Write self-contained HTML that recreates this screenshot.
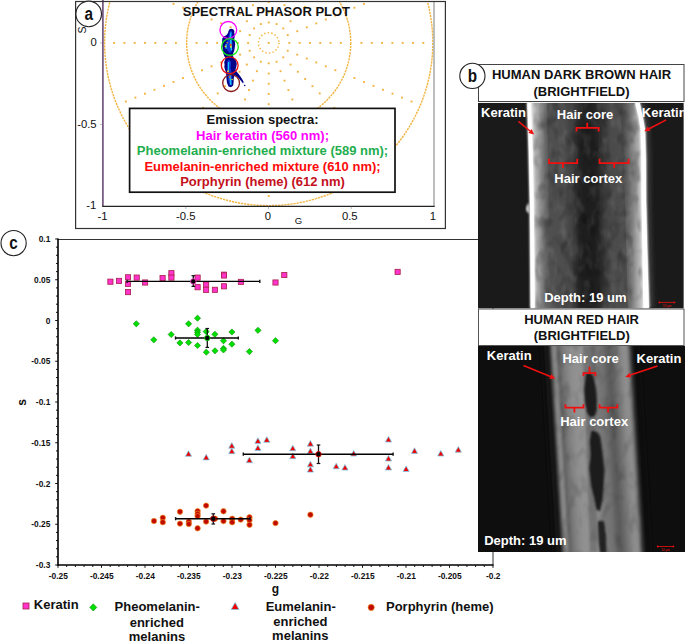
<!DOCTYPE html>
<html><head><meta charset="utf-8"><title>Figure</title>
<style>html,body{margin:0;padding:0;background:#fff;width:685px;height:643px;overflow:hidden;font-family:"Liberation Sans",sans-serif;}svg{display:block}</style>
</head><body>
<svg width="685" height="643" viewBox="0 0 685 643">
<rect width="685" height="643" fill="#fff"/>
<line x1="58.0" y1="239.5" x2="493.0" y2="239.5" stroke="#333" stroke-width="1"/>
<line x1="493" y1="239.0" x2="493" y2="565.0" stroke="#333" stroke-width="1"/>
<line x1="58.0" y1="238.5" x2="58.0" y2="565.7" stroke="#000" stroke-width="1.6"/>
<line x1="57.3" y1="565.0" x2="493.5" y2="565.0" stroke="#000" stroke-width="1.6"/>
<line x1="55.2" y1="239.00" x2="58.0" y2="239.00" stroke="#111" stroke-width="1"/>
<line x1="56.0" y1="247.15" x2="58.0" y2="247.15" stroke="#111" stroke-width="1"/>
<line x1="56.0" y1="255.30" x2="58.0" y2="255.30" stroke="#111" stroke-width="1"/>
<line x1="56.0" y1="263.45" x2="58.0" y2="263.45" stroke="#111" stroke-width="1"/>
<line x1="56.0" y1="271.60" x2="58.0" y2="271.60" stroke="#111" stroke-width="1"/>
<line x1="55.2" y1="279.75" x2="58.0" y2="279.75" stroke="#111" stroke-width="1"/>
<line x1="56.0" y1="287.90" x2="58.0" y2="287.90" stroke="#111" stroke-width="1"/>
<line x1="56.0" y1="296.05" x2="58.0" y2="296.05" stroke="#111" stroke-width="1"/>
<line x1="56.0" y1="304.20" x2="58.0" y2="304.20" stroke="#111" stroke-width="1"/>
<line x1="56.0" y1="312.35" x2="58.0" y2="312.35" stroke="#111" stroke-width="1"/>
<line x1="55.2" y1="320.50" x2="58.0" y2="320.50" stroke="#111" stroke-width="1"/>
<line x1="56.0" y1="328.65" x2="58.0" y2="328.65" stroke="#111" stroke-width="1"/>
<line x1="56.0" y1="336.80" x2="58.0" y2="336.80" stroke="#111" stroke-width="1"/>
<line x1="56.0" y1="344.95" x2="58.0" y2="344.95" stroke="#111" stroke-width="1"/>
<line x1="56.0" y1="353.10" x2="58.0" y2="353.10" stroke="#111" stroke-width="1"/>
<line x1="55.2" y1="361.25" x2="58.0" y2="361.25" stroke="#111" stroke-width="1"/>
<line x1="56.0" y1="369.40" x2="58.0" y2="369.40" stroke="#111" stroke-width="1"/>
<line x1="56.0" y1="377.55" x2="58.0" y2="377.55" stroke="#111" stroke-width="1"/>
<line x1="56.0" y1="385.70" x2="58.0" y2="385.70" stroke="#111" stroke-width="1"/>
<line x1="56.0" y1="393.85" x2="58.0" y2="393.85" stroke="#111" stroke-width="1"/>
<line x1="55.2" y1="402.00" x2="58.0" y2="402.00" stroke="#111" stroke-width="1"/>
<line x1="56.0" y1="410.15" x2="58.0" y2="410.15" stroke="#111" stroke-width="1"/>
<line x1="56.0" y1="418.30" x2="58.0" y2="418.30" stroke="#111" stroke-width="1"/>
<line x1="56.0" y1="426.45" x2="58.0" y2="426.45" stroke="#111" stroke-width="1"/>
<line x1="56.0" y1="434.60" x2="58.0" y2="434.60" stroke="#111" stroke-width="1"/>
<line x1="55.2" y1="442.75" x2="58.0" y2="442.75" stroke="#111" stroke-width="1"/>
<line x1="56.0" y1="450.90" x2="58.0" y2="450.90" stroke="#111" stroke-width="1"/>
<line x1="56.0" y1="459.05" x2="58.0" y2="459.05" stroke="#111" stroke-width="1"/>
<line x1="56.0" y1="467.20" x2="58.0" y2="467.20" stroke="#111" stroke-width="1"/>
<line x1="56.0" y1="475.35" x2="58.0" y2="475.35" stroke="#111" stroke-width="1"/>
<line x1="55.2" y1="483.50" x2="58.0" y2="483.50" stroke="#111" stroke-width="1"/>
<line x1="56.0" y1="491.65" x2="58.0" y2="491.65" stroke="#111" stroke-width="1"/>
<line x1="56.0" y1="499.80" x2="58.0" y2="499.80" stroke="#111" stroke-width="1"/>
<line x1="56.0" y1="507.95" x2="58.0" y2="507.95" stroke="#111" stroke-width="1"/>
<line x1="56.0" y1="516.10" x2="58.0" y2="516.10" stroke="#111" stroke-width="1"/>
<line x1="55.2" y1="524.25" x2="58.0" y2="524.25" stroke="#111" stroke-width="1"/>
<line x1="56.0" y1="532.40" x2="58.0" y2="532.40" stroke="#111" stroke-width="1"/>
<line x1="56.0" y1="540.55" x2="58.0" y2="540.55" stroke="#111" stroke-width="1"/>
<line x1="56.0" y1="548.70" x2="58.0" y2="548.70" stroke="#111" stroke-width="1"/>
<line x1="56.0" y1="556.85" x2="58.0" y2="556.85" stroke="#111" stroke-width="1"/>
<line x1="55.2" y1="565.00" x2="58.0" y2="565.00" stroke="#111" stroke-width="1"/>
<line x1="58.00" y1="565.0" x2="58.00" y2="567.8" stroke="#111" stroke-width="1"/>
<line x1="66.70" y1="565.0" x2="66.70" y2="567.0" stroke="#111" stroke-width="1"/>
<line x1="75.40" y1="565.0" x2="75.40" y2="567.0" stroke="#111" stroke-width="1"/>
<line x1="84.10" y1="565.0" x2="84.10" y2="567.0" stroke="#111" stroke-width="1"/>
<line x1="92.80" y1="565.0" x2="92.80" y2="567.0" stroke="#111" stroke-width="1"/>
<line x1="101.50" y1="565.0" x2="101.50" y2="567.8" stroke="#111" stroke-width="1"/>
<line x1="110.20" y1="565.0" x2="110.20" y2="567.0" stroke="#111" stroke-width="1"/>
<line x1="118.90" y1="565.0" x2="118.90" y2="567.0" stroke="#111" stroke-width="1"/>
<line x1="127.60" y1="565.0" x2="127.60" y2="567.0" stroke="#111" stroke-width="1"/>
<line x1="136.30" y1="565.0" x2="136.30" y2="567.0" stroke="#111" stroke-width="1"/>
<line x1="145.00" y1="565.0" x2="145.00" y2="567.8" stroke="#111" stroke-width="1"/>
<line x1="153.70" y1="565.0" x2="153.70" y2="567.0" stroke="#111" stroke-width="1"/>
<line x1="162.40" y1="565.0" x2="162.40" y2="567.0" stroke="#111" stroke-width="1"/>
<line x1="171.10" y1="565.0" x2="171.10" y2="567.0" stroke="#111" stroke-width="1"/>
<line x1="179.80" y1="565.0" x2="179.80" y2="567.0" stroke="#111" stroke-width="1"/>
<line x1="188.50" y1="565.0" x2="188.50" y2="567.8" stroke="#111" stroke-width="1"/>
<line x1="197.20" y1="565.0" x2="197.20" y2="567.0" stroke="#111" stroke-width="1"/>
<line x1="205.90" y1="565.0" x2="205.90" y2="567.0" stroke="#111" stroke-width="1"/>
<line x1="214.60" y1="565.0" x2="214.60" y2="567.0" stroke="#111" stroke-width="1"/>
<line x1="223.30" y1="565.0" x2="223.30" y2="567.0" stroke="#111" stroke-width="1"/>
<line x1="232.00" y1="565.0" x2="232.00" y2="567.8" stroke="#111" stroke-width="1"/>
<line x1="240.70" y1="565.0" x2="240.70" y2="567.0" stroke="#111" stroke-width="1"/>
<line x1="249.40" y1="565.0" x2="249.40" y2="567.0" stroke="#111" stroke-width="1"/>
<line x1="258.10" y1="565.0" x2="258.10" y2="567.0" stroke="#111" stroke-width="1"/>
<line x1="266.80" y1="565.0" x2="266.80" y2="567.0" stroke="#111" stroke-width="1"/>
<line x1="275.50" y1="565.0" x2="275.50" y2="567.8" stroke="#111" stroke-width="1"/>
<line x1="284.20" y1="565.0" x2="284.20" y2="567.0" stroke="#111" stroke-width="1"/>
<line x1="292.90" y1="565.0" x2="292.90" y2="567.0" stroke="#111" stroke-width="1"/>
<line x1="301.60" y1="565.0" x2="301.60" y2="567.0" stroke="#111" stroke-width="1"/>
<line x1="310.30" y1="565.0" x2="310.30" y2="567.0" stroke="#111" stroke-width="1"/>
<line x1="319.00" y1="565.0" x2="319.00" y2="567.8" stroke="#111" stroke-width="1"/>
<line x1="327.70" y1="565.0" x2="327.70" y2="567.0" stroke="#111" stroke-width="1"/>
<line x1="336.40" y1="565.0" x2="336.40" y2="567.0" stroke="#111" stroke-width="1"/>
<line x1="345.10" y1="565.0" x2="345.10" y2="567.0" stroke="#111" stroke-width="1"/>
<line x1="353.80" y1="565.0" x2="353.80" y2="567.0" stroke="#111" stroke-width="1"/>
<line x1="362.50" y1="565.0" x2="362.50" y2="567.8" stroke="#111" stroke-width="1"/>
<line x1="371.20" y1="565.0" x2="371.20" y2="567.0" stroke="#111" stroke-width="1"/>
<line x1="379.90" y1="565.0" x2="379.90" y2="567.0" stroke="#111" stroke-width="1"/>
<line x1="388.60" y1="565.0" x2="388.60" y2="567.0" stroke="#111" stroke-width="1"/>
<line x1="397.30" y1="565.0" x2="397.30" y2="567.0" stroke="#111" stroke-width="1"/>
<line x1="406.00" y1="565.0" x2="406.00" y2="567.8" stroke="#111" stroke-width="1"/>
<line x1="414.70" y1="565.0" x2="414.70" y2="567.0" stroke="#111" stroke-width="1"/>
<line x1="423.40" y1="565.0" x2="423.40" y2="567.0" stroke="#111" stroke-width="1"/>
<line x1="432.10" y1="565.0" x2="432.10" y2="567.0" stroke="#111" stroke-width="1"/>
<line x1="440.80" y1="565.0" x2="440.80" y2="567.0" stroke="#111" stroke-width="1"/>
<line x1="449.50" y1="565.0" x2="449.50" y2="567.8" stroke="#111" stroke-width="1"/>
<line x1="458.20" y1="565.0" x2="458.20" y2="567.0" stroke="#111" stroke-width="1"/>
<line x1="466.90" y1="565.0" x2="466.90" y2="567.0" stroke="#111" stroke-width="1"/>
<line x1="475.60" y1="565.0" x2="475.60" y2="567.0" stroke="#111" stroke-width="1"/>
<line x1="484.30" y1="565.0" x2="484.30" y2="567.0" stroke="#111" stroke-width="1"/>
<line x1="493.00" y1="565.0" x2="493.00" y2="567.8" stroke="#111" stroke-width="1"/>
<g font-family="Liberation Sans" font-weight="bold" font-size="8.4" fill="#111">
<text x="50.3" y="242.0" text-anchor="end">0.1</text>
<text x="50.3" y="282.8" text-anchor="end">0.05</text>
<text x="50.3" y="323.5" text-anchor="end">0</text>
<text x="50.3" y="364.2" text-anchor="end">-0.05</text>
<text x="50.3" y="405.0" text-anchor="end">-0.1</text>
<text x="50.3" y="445.8" text-anchor="end">-0.15</text>
<text x="50.3" y="486.5" text-anchor="end">-0.2</text>
<text x="50.3" y="527.2" text-anchor="end">-0.25</text>
<text x="50.3" y="568.0" text-anchor="end">-0.3</text>
<text x="58.3" y="578.6" text-anchor="middle">-0.25</text>
<text x="101.8" y="578.6" text-anchor="middle">-0.245</text>
<text x="145.3" y="578.6" text-anchor="middle">-0.24</text>
<text x="188.8" y="578.6" text-anchor="middle">-0.235</text>
<text x="232.3" y="578.6" text-anchor="middle">-0.23</text>
<text x="275.8" y="578.6" text-anchor="middle">-0.225</text>
<text x="319.3" y="578.6" text-anchor="middle">-0.22</text>
<text x="362.8" y="578.6" text-anchor="middle">-0.215</text>
<text x="406.3" y="578.6" text-anchor="middle">-0.21</text>
<text x="449.8" y="578.6" text-anchor="middle">-0.205</text>
<text x="493.3" y="578.6" text-anchor="middle">-0.2</text>
</g>
<text x="275.5" y="593.2" text-anchor="middle" font-family="Liberation Sans" font-weight="bold" font-size="12" fill="#111">g</text>
<text transform="translate(26.2,402.3) rotate(-90)" text-anchor="middle" font-family="Liberation Sans" font-weight="bold" font-size="12" fill="#111">s</text>
<rect x="107.8" y="279.1" width="5.2" height="5.2" fill="#ff33cc" stroke="#a8204a" stroke-width="0.8"/>
<rect x="116.4" y="278.3" width="5.2" height="5.2" fill="#ff33cc" stroke="#a8204a" stroke-width="0.8"/>
<rect x="125.4" y="274.7" width="5.2" height="5.2" fill="#ff33cc" stroke="#a8204a" stroke-width="0.8"/>
<rect x="125.4" y="281.3" width="5.2" height="5.2" fill="#ff33cc" stroke="#a8204a" stroke-width="0.8"/>
<rect x="125.4" y="289.5" width="5.2" height="5.2" fill="#ff33cc" stroke="#a8204a" stroke-width="0.8"/>
<rect x="134.1" y="275.0" width="5.2" height="5.2" fill="#ff33cc" stroke="#a8204a" stroke-width="0.8"/>
<rect x="142.5" y="279.9" width="5.2" height="5.2" fill="#ff33cc" stroke="#a8204a" stroke-width="0.8"/>
<rect x="160.0" y="275.5" width="5.2" height="5.2" fill="#ff33cc" stroke="#a8204a" stroke-width="0.8"/>
<rect x="168.8" y="270.6" width="5.2" height="5.2" fill="#ff33cc" stroke="#a8204a" stroke-width="0.8"/>
<rect x="168.8" y="275.0" width="5.2" height="5.2" fill="#ff33cc" stroke="#a8204a" stroke-width="0.8"/>
<rect x="195.0" y="275.0" width="5.2" height="5.2" fill="#ff33cc" stroke="#a8204a" stroke-width="0.8"/>
<rect x="195.0" y="284.6" width="5.2" height="5.2" fill="#ff33cc" stroke="#a8204a" stroke-width="0.8"/>
<rect x="203.5" y="282.0" width="5.2" height="5.2" fill="#ff33cc" stroke="#a8204a" stroke-width="0.8"/>
<rect x="203.5" y="287.2" width="5.2" height="5.2" fill="#ff33cc" stroke="#a8204a" stroke-width="0.8"/>
<rect x="212.3" y="287.2" width="5.2" height="5.2" fill="#ff33cc" stroke="#a8204a" stroke-width="0.8"/>
<rect x="221.4" y="272.1" width="5.2" height="5.2" fill="#ff33cc" stroke="#a8204a" stroke-width="0.8"/>
<rect x="221.4" y="272.9" width="5.2" height="5.2" fill="#ff33cc" stroke="#a8204a" stroke-width="0.8"/>
<rect x="221.4" y="283.7" width="5.2" height="5.2" fill="#ff33cc" stroke="#a8204a" stroke-width="0.8"/>
<rect x="238.3" y="279.3" width="5.2" height="5.2" fill="#ff33cc" stroke="#a8204a" stroke-width="0.8"/>
<rect x="272.9" y="279.9" width="5.2" height="5.2" fill="#ff33cc" stroke="#a8204a" stroke-width="0.8"/>
<rect x="281.7" y="272.4" width="5.2" height="5.2" fill="#ff33cc" stroke="#a8204a" stroke-width="0.8"/>
<rect x="395.0" y="269.3" width="5.2" height="5.2" fill="#ff33cc" stroke="#a8204a" stroke-width="0.8"/>
<line x1="127.1" y1="281.4" x2="259.8" y2="281.4" stroke="#000" stroke-width="1.4"/>
<line x1="127.1" y1="279.79999999999995" x2="127.1" y2="283.0" stroke="#111" stroke-width="1.4"/>
<line x1="259.8" y1="279.79999999999995" x2="259.8" y2="283.0" stroke="#111" stroke-width="1.4"/>
<line x1="193.3" y1="275.7" x2="193.3" y2="286.4" stroke="#111" stroke-width="1.3"/>
<line x1="191.5" y1="275.7" x2="195.10000000000002" y2="275.7" stroke="#111" stroke-width="1.2"/>
<line x1="191.5" y1="286.4" x2="195.10000000000002" y2="286.4" stroke="#111" stroke-width="1.2"/>
<circle cx="193.3" cy="281.4" r="2.7" fill="#000" stroke="#ff33cc" stroke-width="0.9"/>
<path d="M136.3,320.7 L139.4,323.8 L136.3,326.9 L133.2,323.8 Z" fill="#00e000" stroke="#0a8a0a" stroke-width="0.6"/>
<path d="M153.8,336.7 L156.9,339.8 L153.8,342.9 L150.7,339.8 Z" fill="#00e000" stroke="#0a8a0a" stroke-width="0.6"/>
<path d="M171.2,331.4 L174.3,334.5 L171.2,337.6 L168.1,334.5 Z" fill="#00e000" stroke="#0a8a0a" stroke-width="0.6"/>
<path d="M179.9,339.8 L183.0,342.9 L179.9,346.0 L176.8,342.9 Z" fill="#00e000" stroke="#0a8a0a" stroke-width="0.6"/>
<path d="M188.6,320.7 L191.7,323.8 L188.6,326.9 L185.5,323.8 Z" fill="#00e000" stroke="#0a8a0a" stroke-width="0.6"/>
<path d="M188.6,339.4 L191.7,342.5 L188.6,345.6 L185.5,342.5 Z" fill="#00e000" stroke="#0a8a0a" stroke-width="0.6"/>
<path d="M197.5,315.1 L200.6,318.2 L197.5,321.3 L194.4,318.2 Z" fill="#00e000" stroke="#0a8a0a" stroke-width="0.6"/>
<path d="M197.5,327.1 L200.6,330.2 L197.5,333.3 L194.4,330.2 Z" fill="#00e000" stroke="#0a8a0a" stroke-width="0.6"/>
<path d="M197.5,329.2 L200.6,332.3 L197.5,335.4 L194.4,332.3 Z" fill="#00e000" stroke="#0a8a0a" stroke-width="0.6"/>
<path d="M197.5,331.4 L200.6,334.5 L197.5,337.6 L194.4,334.5 Z" fill="#00e000" stroke="#0a8a0a" stroke-width="0.6"/>
<path d="M197.5,342.4 L200.6,345.5 L197.5,348.6 L194.4,345.5 Z" fill="#00e000" stroke="#0a8a0a" stroke-width="0.6"/>
<path d="M206.2,328.5 L209.3,331.6 L206.2,334.7 L203.1,331.6 Z" fill="#00e000" stroke="#0a8a0a" stroke-width="0.6"/>
<path d="M206.3,349.1 L209.4,352.2 L206.3,355.3 L203.2,352.2 Z" fill="#00e000" stroke="#0a8a0a" stroke-width="0.6"/>
<path d="M214.9,331.2 L218.0,334.3 L214.9,337.4 L211.8,334.3 Z" fill="#00e000" stroke="#0a8a0a" stroke-width="0.6"/>
<path d="M215.0,347.7 L218.1,350.8 L215.0,353.9 L211.9,350.8 Z" fill="#00e000" stroke="#0a8a0a" stroke-width="0.6"/>
<path d="M223.5,337.7 L226.6,340.8 L223.5,343.9 L220.4,340.8 Z" fill="#00e000" stroke="#0a8a0a" stroke-width="0.6"/>
<path d="M223.5,345.3 L226.6,348.4 L223.5,351.5 L220.4,348.4 Z" fill="#00e000" stroke="#0a8a0a" stroke-width="0.6"/>
<path d="M223.5,346.8 L226.6,349.9 L223.5,353.0 L220.4,349.9 Z" fill="#00e000" stroke="#0a8a0a" stroke-width="0.6"/>
<path d="M231.9,328.9 L235.0,332.0 L231.9,335.1 L228.8,332.0 Z" fill="#00e000" stroke="#0a8a0a" stroke-width="0.6"/>
<path d="M231.9,341.1 L235.0,344.2 L231.9,347.3 L228.8,344.2 Z" fill="#00e000" stroke="#0a8a0a" stroke-width="0.6"/>
<path d="M249.4,348.5 L252.5,351.6 L249.4,354.7 L246.3,351.6 Z" fill="#00e000" stroke="#0a8a0a" stroke-width="0.6"/>
<path d="M258.0,327.2 L261.1,330.3 L258.0,333.4 L254.9,330.3 Z" fill="#00e000" stroke="#0a8a0a" stroke-width="0.6"/>
<path d="M275.5,337.6 L278.6,340.7 L275.5,343.8 L272.4,340.7 Z" fill="#00e000" stroke="#0a8a0a" stroke-width="0.6"/>
<line x1="175.5" y1="338.0" x2="238.3" y2="338.0" stroke="#000" stroke-width="1.4"/>
<line x1="175.5" y1="336.4" x2="175.5" y2="339.6" stroke="#111" stroke-width="1.4"/>
<line x1="238.3" y1="336.4" x2="238.3" y2="339.6" stroke="#111" stroke-width="1.4"/>
<line x1="207.3" y1="328.5" x2="207.3" y2="347.4" stroke="#111" stroke-width="1.3"/>
<line x1="205.5" y1="328.5" x2="209.10000000000002" y2="328.5" stroke="#111" stroke-width="1.2"/>
<line x1="205.5" y1="347.4" x2="209.10000000000002" y2="347.4" stroke="#111" stroke-width="1.2"/>
<circle cx="207.3" cy="338.0" r="2.7" fill="#000" stroke="#00e000" stroke-width="0.9"/>
<path d="M188.5,450.7 L191.6,456.3 L185.4,456.3 Z" fill="#ee0000" stroke="#7ecbe8" stroke-width="0.8"/>
<path d="M206.2,454.3 L209.3,459.9 L203.1,459.9 Z" fill="#ee0000" stroke="#7ecbe8" stroke-width="0.8"/>
<path d="M231.8,442.6 L234.9,448.2 L228.7,448.2 Z" fill="#ee0000" stroke="#7ecbe8" stroke-width="0.8"/>
<path d="M231.8,448.1 L234.9,453.7 L228.7,453.7 Z" fill="#ee0000" stroke="#7ecbe8" stroke-width="0.8"/>
<path d="M249.4,457.1 L252.5,462.7 L246.3,462.7 Z" fill="#ee0000" stroke="#7ecbe8" stroke-width="0.8"/>
<path d="M257.9,437.8 L261.0,443.4 L254.8,443.4 Z" fill="#ee0000" stroke="#7ecbe8" stroke-width="0.8"/>
<path d="M257.9,444.9 L261.0,450.5 L254.8,450.5 Z" fill="#ee0000" stroke="#7ecbe8" stroke-width="0.8"/>
<path d="M266.8,436.7 L269.9,442.3 L263.7,442.3 Z" fill="#ee0000" stroke="#7ecbe8" stroke-width="0.8"/>
<path d="M292.8,445.2 L295.9,450.8 L289.7,450.8 Z" fill="#ee0000" stroke="#7ecbe8" stroke-width="0.8"/>
<path d="M292.8,453.1 L295.9,458.7 L289.7,458.7 Z" fill="#ee0000" stroke="#7ecbe8" stroke-width="0.8"/>
<path d="M310.4,440.6 L313.5,446.2 L307.3,446.2 Z" fill="#ee0000" stroke="#7ecbe8" stroke-width="0.8"/>
<path d="M310.4,448.1 L313.5,453.7 L307.3,453.7 Z" fill="#ee0000" stroke="#7ecbe8" stroke-width="0.8"/>
<path d="M310.4,461.2 L313.5,466.8 L307.3,466.8 Z" fill="#ee0000" stroke="#7ecbe8" stroke-width="0.8"/>
<path d="M310.4,466.5 L313.5,472.1 L307.3,472.1 Z" fill="#ee0000" stroke="#7ecbe8" stroke-width="0.8"/>
<path d="M336.2,463.2 L339.3,468.8 L333.1,468.8 Z" fill="#ee0000" stroke="#7ecbe8" stroke-width="0.8"/>
<path d="M345.0,464.5 L348.1,470.1 L341.9,470.1 Z" fill="#ee0000" stroke="#7ecbe8" stroke-width="0.8"/>
<path d="M353.7,450.4 L356.8,456.0 L350.6,456.0 Z" fill="#ee0000" stroke="#7ecbe8" stroke-width="0.8"/>
<path d="M388.5,436.4 L391.6,442.0 L385.4,442.0 Z" fill="#ee0000" stroke="#7ecbe8" stroke-width="0.8"/>
<path d="M388.5,455.4 L391.6,461.0 L385.4,461.0 Z" fill="#ee0000" stroke="#7ecbe8" stroke-width="0.8"/>
<path d="M388.5,464.4 L391.6,470.0 L385.4,470.0 Z" fill="#ee0000" stroke="#7ecbe8" stroke-width="0.8"/>
<path d="M406.1,465.9 L409.2,471.5 L403.0,471.5 Z" fill="#ee0000" stroke="#7ecbe8" stroke-width="0.8"/>
<path d="M414.5,447.8 L417.6,453.4 L411.4,453.4 Z" fill="#ee0000" stroke="#7ecbe8" stroke-width="0.8"/>
<path d="M440.8,450.4 L443.9,456.0 L437.7,456.0 Z" fill="#ee0000" stroke="#7ecbe8" stroke-width="0.8"/>
<path d="M458.3,446.6 L461.4,452.2 L455.2,452.2 Z" fill="#ee0000" stroke="#7ecbe8" stroke-width="0.8"/>
<line x1="243.3" y1="454.2" x2="393.1" y2="454.2" stroke="#000" stroke-width="1.4"/>
<line x1="243.3" y1="452.59999999999997" x2="243.3" y2="455.8" stroke="#111" stroke-width="1.4"/>
<line x1="393.1" y1="452.59999999999997" x2="393.1" y2="455.8" stroke="#111" stroke-width="1.4"/>
<line x1="318.5" y1="445.0" x2="318.5" y2="463.5" stroke="#111" stroke-width="1.3"/>
<line x1="316.7" y1="445.0" x2="320.3" y2="445.0" stroke="#111" stroke-width="1.2"/>
<line x1="316.7" y1="463.5" x2="320.3" y2="463.5" stroke="#111" stroke-width="1.2"/>
<circle cx="318.5" cy="454.2" r="2.7" fill="#000" stroke="#ee0000" stroke-width="0.9"/>
<circle cx="154.0" cy="521.0" r="2.7" fill="#c00a00" stroke="#f08a20" stroke-width="0.7"/>
<circle cx="162.8" cy="517.8" r="2.7" fill="#c00a00" stroke="#f08a20" stroke-width="0.7"/>
<circle cx="162.8" cy="522.2" r="2.7" fill="#c00a00" stroke="#f08a20" stroke-width="0.7"/>
<circle cx="180.0" cy="511.7" r="2.7" fill="#c00a00" stroke="#f08a20" stroke-width="0.7"/>
<circle cx="180.0" cy="523.6" r="2.7" fill="#c00a00" stroke="#f08a20" stroke-width="0.7"/>
<circle cx="188.8" cy="521.6" r="2.7" fill="#c00a00" stroke="#f08a20" stroke-width="0.7"/>
<circle cx="188.8" cy="524.0" r="2.7" fill="#c00a00" stroke="#f08a20" stroke-width="0.7"/>
<circle cx="197.6" cy="511.1" r="2.7" fill="#c00a00" stroke="#f08a20" stroke-width="0.7"/>
<circle cx="197.6" cy="513.8" r="2.7" fill="#c00a00" stroke="#f08a20" stroke-width="0.7"/>
<circle cx="197.6" cy="516.1" r="2.7" fill="#c00a00" stroke="#f08a20" stroke-width="0.7"/>
<circle cx="197.6" cy="528.3" r="2.7" fill="#c00a00" stroke="#f08a20" stroke-width="0.7"/>
<circle cx="206.1" cy="505.6" r="2.7" fill="#c00a00" stroke="#f08a20" stroke-width="0.7"/>
<circle cx="206.1" cy="521.6" r="2.7" fill="#c00a00" stroke="#f08a20" stroke-width="0.7"/>
<circle cx="215.0" cy="518.7" r="2.7" fill="#c00a00" stroke="#f08a20" stroke-width="0.7"/>
<circle cx="223.5" cy="511.3" r="2.7" fill="#c00a00" stroke="#f08a20" stroke-width="0.7"/>
<circle cx="223.5" cy="521.1" r="2.7" fill="#c00a00" stroke="#f08a20" stroke-width="0.7"/>
<circle cx="232.2" cy="518.7" r="2.7" fill="#c00a00" stroke="#f08a20" stroke-width="0.7"/>
<circle cx="232.2" cy="522.2" r="2.7" fill="#c00a00" stroke="#f08a20" stroke-width="0.7"/>
<circle cx="240.7" cy="519.6" r="2.7" fill="#c00a00" stroke="#f08a20" stroke-width="0.7"/>
<circle cx="249.5" cy="517.3" r="2.7" fill="#c00a00" stroke="#f08a20" stroke-width="0.7"/>
<circle cx="249.5" cy="520.1" r="2.7" fill="#c00a00" stroke="#f08a20" stroke-width="0.7"/>
<circle cx="249.5" cy="524.8" r="2.7" fill="#c00a00" stroke="#f08a20" stroke-width="0.7"/>
<circle cx="275.5" cy="523.1" r="2.7" fill="#c00a00" stroke="#f08a20" stroke-width="0.7"/>
<circle cx="310.4" cy="514.7" r="2.7" fill="#c00a00" stroke="#f08a20" stroke-width="0.7"/>
<line x1="175.6" y1="518.7" x2="250.0" y2="518.7" stroke="#000" stroke-width="1.4"/>
<line x1="175.6" y1="517.1" x2="175.6" y2="520.3000000000001" stroke="#111" stroke-width="1.4"/>
<line x1="250.0" y1="517.1" x2="250.0" y2="520.3000000000001" stroke="#111" stroke-width="1.4"/>
<line x1="213.3" y1="513.8" x2="213.3" y2="524.0" stroke="#111" stroke-width="1.3"/>
<line x1="211.5" y1="513.8" x2="215.10000000000002" y2="513.8" stroke="#111" stroke-width="1.2"/>
<line x1="211.5" y1="524.0" x2="215.10000000000002" y2="524.0" stroke="#111" stroke-width="1.2"/>
<circle cx="213.3" cy="518.7" r="2.7" fill="#000" stroke="#c00a00" stroke-width="0.9"/>
<g font-family="Liberation Sans" font-weight="bold" font-size="13" fill="#111">
<rect x="23" y="603" width="6" height="6" fill="#ff33cc" stroke="#a8204a" stroke-width="0.8"/>
<text x="33.8" y="608.7">Keratin</text>
<path d="M93.3,603.8 L96.8,607.4 L93.3,611 L89.8,607.4 Z" fill="#00e000" stroke="#0a8a0a" stroke-width="0.6"/>
<text x="157.2" y="611" text-anchor="middle">Pheomelanin-</text>
<text x="156.8" y="626.9" text-anchor="middle">enriched</text>
<text x="157" y="640.9" text-anchor="middle">melanins</text>
<path d="M235.1,602.4 L239,609.5 L231.2,609.5 Z" fill="#ee0000" stroke="#7ecbe8" stroke-width="0.8"/>
<text x="300.7" y="611.4" text-anchor="middle">Eumelanin-</text>
<text x="300.4" y="626.4" text-anchor="middle">enriched</text>
<text x="300.3" y="640.4" text-anchor="middle">melanins</text>
<circle cx="371.2" cy="607.4" r="3.1" fill="#c00a00" stroke="#f08a20" stroke-width="0.7"/>
<text x="386" y="611">Porphyrin (heme)</text>
</g>
<g>
<clipPath id="clipA"><rect x="76" y="2" width="369" height="226"/></clipPath>
<g clip-path="url(#clipA)">
<ellipse cx="268.7" cy="42.9" rx="164.10" ry="162.70" fill="none" stroke="#f2b440" stroke-width="1.4" stroke-dasharray="2.2 0.9"/>
<ellipse cx="268.7" cy="42.9" rx="82.05" ry="81.35" fill="none" stroke="#f2b440" stroke-width="1.4" stroke-dasharray="2.2 0.9"/>
<ellipse cx="268.7" cy="42.9" rx="10.26" ry="10.17" fill="none" stroke="#f2b440" stroke-width="1.5" stroke-dasharray="1.4 2.2"/>
<rect x="288.36" y="41.95" width="1.9" height="1.9" fill="#f2b440"/>
<rect x="298.67" y="41.95" width="1.9" height="1.9" fill="#f2b440"/>
<rect x="308.98" y="41.95" width="1.9" height="1.9" fill="#f2b440"/>
<rect x="319.28" y="41.95" width="1.9" height="1.9" fill="#f2b440"/>
<rect x="329.59" y="41.95" width="1.9" height="1.9" fill="#f2b440"/>
<rect x="339.89" y="41.95" width="1.9" height="1.9" fill="#f2b440"/>
<rect x="360.51" y="41.95" width="1.9" height="1.9" fill="#f2b440"/>
<rect x="370.81" y="41.95" width="1.9" height="1.9" fill="#f2b440"/>
<rect x="381.12" y="41.95" width="1.9" height="1.9" fill="#f2b440"/>
<rect x="391.43" y="41.95" width="1.9" height="1.9" fill="#f2b440"/>
<rect x="401.73" y="41.95" width="1.9" height="1.9" fill="#f2b440"/>
<rect x="412.04" y="41.95" width="1.9" height="1.9" fill="#f2b440"/>
<rect x="422.34" y="41.95" width="1.9" height="1.9" fill="#f2b440"/>
<rect x="286.79" y="34.14" width="1.9" height="1.9" fill="#f2b440"/>
<rect x="296.32" y="30.23" width="1.9" height="1.9" fill="#f2b440"/>
<rect x="305.84" y="26.33" width="1.9" height="1.9" fill="#f2b440"/>
<rect x="315.36" y="22.42" width="1.9" height="1.9" fill="#f2b440"/>
<rect x="324.88" y="18.52" width="1.9" height="1.9" fill="#f2b440"/>
<rect x="334.40" y="14.61" width="1.9" height="1.9" fill="#f2b440"/>
<rect x="353.45" y="6.80" width="1.9" height="1.9" fill="#f2b440"/>
<rect x="362.97" y="2.89" width="1.9" height="1.9" fill="#f2b440"/>
<rect x="282.33" y="27.52" width="1.9" height="1.9" fill="#f2b440"/>
<rect x="289.61" y="20.30" width="1.9" height="1.9" fill="#f2b440"/>
<rect x="296.90" y="13.08" width="1.9" height="1.9" fill="#f2b440"/>
<rect x="304.19" y="5.87" width="1.9" height="1.9" fill="#f2b440"/>
<rect x="275.64" y="23.09" width="1.9" height="1.9" fill="#f2b440"/>
<rect x="279.58" y="13.66" width="1.9" height="1.9" fill="#f2b440"/>
<rect x="283.53" y="4.23" width="1.9" height="1.9" fill="#f2b440"/>
<rect x="267.75" y="21.54" width="1.9" height="1.9" fill="#f2b440"/>
<rect x="267.75" y="11.33" width="1.9" height="1.9" fill="#f2b440"/>
<rect x="267.75" y="1.12" width="1.9" height="1.9" fill="#f2b440"/>
<rect x="259.86" y="23.09" width="1.9" height="1.9" fill="#f2b440"/>
<rect x="255.92" y="13.66" width="1.9" height="1.9" fill="#f2b440"/>
<rect x="251.97" y="4.23" width="1.9" height="1.9" fill="#f2b440"/>
<rect x="253.17" y="27.52" width="1.9" height="1.9" fill="#f2b440"/>
<rect x="245.89" y="20.30" width="1.9" height="1.9" fill="#f2b440"/>
<rect x="238.60" y="13.08" width="1.9" height="1.9" fill="#f2b440"/>
<rect x="231.31" y="5.87" width="1.9" height="1.9" fill="#f2b440"/>
<rect x="248.71" y="34.14" width="1.9" height="1.9" fill="#f2b440"/>
<rect x="239.18" y="30.23" width="1.9" height="1.9" fill="#f2b440"/>
<rect x="229.66" y="26.33" width="1.9" height="1.9" fill="#f2b440"/>
<rect x="220.14" y="22.42" width="1.9" height="1.9" fill="#f2b440"/>
<rect x="210.62" y="18.52" width="1.9" height="1.9" fill="#f2b440"/>
<rect x="201.10" y="14.61" width="1.9" height="1.9" fill="#f2b440"/>
<rect x="182.05" y="6.80" width="1.9" height="1.9" fill="#f2b440"/>
<rect x="172.53" y="2.89" width="1.9" height="1.9" fill="#f2b440"/>
<rect x="247.14" y="41.95" width="1.9" height="1.9" fill="#f2b440"/>
<rect x="236.83" y="41.95" width="1.9" height="1.9" fill="#f2b440"/>
<rect x="226.53" y="41.95" width="1.9" height="1.9" fill="#f2b440"/>
<rect x="216.22" y="41.95" width="1.9" height="1.9" fill="#f2b440"/>
<rect x="205.91" y="41.95" width="1.9" height="1.9" fill="#f2b440"/>
<rect x="195.61" y="41.95" width="1.9" height="1.9" fill="#f2b440"/>
<rect x="174.99" y="41.95" width="1.9" height="1.9" fill="#f2b440"/>
<rect x="164.69" y="41.95" width="1.9" height="1.9" fill="#f2b440"/>
<rect x="154.38" y="41.95" width="1.9" height="1.9" fill="#f2b440"/>
<rect x="144.07" y="41.95" width="1.9" height="1.9" fill="#f2b440"/>
<rect x="133.77" y="41.95" width="1.9" height="1.9" fill="#f2b440"/>
<rect x="123.46" y="41.95" width="1.9" height="1.9" fill="#f2b440"/>
<rect x="113.16" y="41.95" width="1.9" height="1.9" fill="#f2b440"/>
<rect x="248.71" y="49.76" width="1.9" height="1.9" fill="#f2b440"/>
<rect x="239.18" y="53.67" width="1.9" height="1.9" fill="#f2b440"/>
<rect x="229.66" y="57.57" width="1.9" height="1.9" fill="#f2b440"/>
<rect x="220.14" y="61.48" width="1.9" height="1.9" fill="#f2b440"/>
<rect x="210.62" y="65.38" width="1.9" height="1.9" fill="#f2b440"/>
<rect x="201.10" y="69.29" width="1.9" height="1.9" fill="#f2b440"/>
<rect x="182.05" y="77.10" width="1.9" height="1.9" fill="#f2b440"/>
<rect x="172.53" y="81.01" width="1.9" height="1.9" fill="#f2b440"/>
<rect x="163.01" y="84.91" width="1.9" height="1.9" fill="#f2b440"/>
<rect x="153.49" y="88.82" width="1.9" height="1.9" fill="#f2b440"/>
<rect x="143.97" y="92.72" width="1.9" height="1.9" fill="#f2b440"/>
<rect x="134.45" y="96.63" width="1.9" height="1.9" fill="#f2b440"/>
<rect x="124.92" y="100.54" width="1.9" height="1.9" fill="#f2b440"/>
<rect x="253.17" y="56.38" width="1.9" height="1.9" fill="#f2b440"/>
<rect x="245.89" y="63.60" width="1.9" height="1.9" fill="#f2b440"/>
<rect x="238.60" y="70.82" width="1.9" height="1.9" fill="#f2b440"/>
<rect x="231.31" y="78.03" width="1.9" height="1.9" fill="#f2b440"/>
<rect x="224.02" y="85.25" width="1.9" height="1.9" fill="#f2b440"/>
<rect x="216.74" y="92.47" width="1.9" height="1.9" fill="#f2b440"/>
<rect x="202.16" y="106.90" width="1.9" height="1.9" fill="#f2b440"/>
<rect x="194.87" y="114.12" width="1.9" height="1.9" fill="#f2b440"/>
<rect x="187.59" y="121.34" width="1.9" height="1.9" fill="#f2b440"/>
<rect x="180.30" y="128.55" width="1.9" height="1.9" fill="#f2b440"/>
<rect x="173.01" y="135.77" width="1.9" height="1.9" fill="#f2b440"/>
<rect x="165.72" y="142.99" width="1.9" height="1.9" fill="#f2b440"/>
<rect x="158.44" y="150.20" width="1.9" height="1.9" fill="#f2b440"/>
<rect x="259.86" y="60.81" width="1.9" height="1.9" fill="#f2b440"/>
<rect x="255.92" y="70.24" width="1.9" height="1.9" fill="#f2b440"/>
<rect x="251.97" y="79.67" width="1.9" height="1.9" fill="#f2b440"/>
<rect x="248.03" y="89.10" width="1.9" height="1.9" fill="#f2b440"/>
<rect x="244.09" y="98.53" width="1.9" height="1.9" fill="#f2b440"/>
<rect x="240.14" y="107.96" width="1.9" height="1.9" fill="#f2b440"/>
<rect x="232.25" y="126.81" width="1.9" height="1.9" fill="#f2b440"/>
<rect x="228.31" y="136.24" width="1.9" height="1.9" fill="#f2b440"/>
<rect x="224.37" y="145.67" width="1.9" height="1.9" fill="#f2b440"/>
<rect x="220.42" y="155.10" width="1.9" height="1.9" fill="#f2b440"/>
<rect x="216.48" y="164.53" width="1.9" height="1.9" fill="#f2b440"/>
<rect x="212.53" y="173.96" width="1.9" height="1.9" fill="#f2b440"/>
<rect x="208.59" y="183.39" width="1.9" height="1.9" fill="#f2b440"/>
<rect x="267.75" y="62.36" width="1.9" height="1.9" fill="#f2b440"/>
<rect x="267.75" y="72.57" width="1.9" height="1.9" fill="#f2b440"/>
<rect x="267.75" y="82.77" width="1.9" height="1.9" fill="#f2b440"/>
<rect x="267.75" y="92.98" width="1.9" height="1.9" fill="#f2b440"/>
<rect x="267.75" y="103.19" width="1.9" height="1.9" fill="#f2b440"/>
<rect x="267.75" y="113.39" width="1.9" height="1.9" fill="#f2b440"/>
<rect x="267.75" y="133.81" width="1.9" height="1.9" fill="#f2b440"/>
<rect x="267.75" y="144.01" width="1.9" height="1.9" fill="#f2b440"/>
<rect x="267.75" y="154.22" width="1.9" height="1.9" fill="#f2b440"/>
<rect x="267.75" y="164.43" width="1.9" height="1.9" fill="#f2b440"/>
<rect x="267.75" y="174.63" width="1.9" height="1.9" fill="#f2b440"/>
<rect x="267.75" y="184.84" width="1.9" height="1.9" fill="#f2b440"/>
<rect x="267.75" y="195.04" width="1.9" height="1.9" fill="#f2b440"/>
<rect x="275.64" y="60.81" width="1.9" height="1.9" fill="#f2b440"/>
<rect x="279.58" y="70.24" width="1.9" height="1.9" fill="#f2b440"/>
<rect x="283.53" y="79.67" width="1.9" height="1.9" fill="#f2b440"/>
<rect x="287.47" y="89.10" width="1.9" height="1.9" fill="#f2b440"/>
<rect x="291.41" y="98.53" width="1.9" height="1.9" fill="#f2b440"/>
<rect x="295.36" y="107.96" width="1.9" height="1.9" fill="#f2b440"/>
<rect x="303.25" y="126.81" width="1.9" height="1.9" fill="#f2b440"/>
<rect x="307.19" y="136.24" width="1.9" height="1.9" fill="#f2b440"/>
<rect x="311.13" y="145.67" width="1.9" height="1.9" fill="#f2b440"/>
<rect x="315.08" y="155.10" width="1.9" height="1.9" fill="#f2b440"/>
<rect x="319.02" y="164.53" width="1.9" height="1.9" fill="#f2b440"/>
<rect x="322.97" y="173.96" width="1.9" height="1.9" fill="#f2b440"/>
<rect x="326.91" y="183.39" width="1.9" height="1.9" fill="#f2b440"/>
<rect x="282.33" y="56.38" width="1.9" height="1.9" fill="#f2b440"/>
<rect x="289.61" y="63.60" width="1.9" height="1.9" fill="#f2b440"/>
<rect x="296.90" y="70.82" width="1.9" height="1.9" fill="#f2b440"/>
<rect x="304.19" y="78.03" width="1.9" height="1.9" fill="#f2b440"/>
<rect x="311.48" y="85.25" width="1.9" height="1.9" fill="#f2b440"/>
<rect x="318.76" y="92.47" width="1.9" height="1.9" fill="#f2b440"/>
<rect x="333.34" y="106.90" width="1.9" height="1.9" fill="#f2b440"/>
<rect x="340.63" y="114.12" width="1.9" height="1.9" fill="#f2b440"/>
<rect x="347.91" y="121.34" width="1.9" height="1.9" fill="#f2b440"/>
<rect x="355.20" y="128.55" width="1.9" height="1.9" fill="#f2b440"/>
<rect x="362.49" y="135.77" width="1.9" height="1.9" fill="#f2b440"/>
<rect x="369.78" y="142.99" width="1.9" height="1.9" fill="#f2b440"/>
<rect x="377.06" y="150.20" width="1.9" height="1.9" fill="#f2b440"/>
<rect x="286.79" y="49.76" width="1.9" height="1.9" fill="#f2b440"/>
<rect x="296.32" y="53.67" width="1.9" height="1.9" fill="#f2b440"/>
<rect x="305.84" y="57.57" width="1.9" height="1.9" fill="#f2b440"/>
<rect x="315.36" y="61.48" width="1.9" height="1.9" fill="#f2b440"/>
<rect x="324.88" y="65.38" width="1.9" height="1.9" fill="#f2b440"/>
<rect x="334.40" y="69.29" width="1.9" height="1.9" fill="#f2b440"/>
<rect x="353.45" y="77.10" width="1.9" height="1.9" fill="#f2b440"/>
<rect x="362.97" y="81.01" width="1.9" height="1.9" fill="#f2b440"/>
<rect x="372.49" y="84.91" width="1.9" height="1.9" fill="#f2b440"/>
<rect x="382.01" y="88.82" width="1.9" height="1.9" fill="#f2b440"/>
<rect x="391.53" y="92.72" width="1.9" height="1.9" fill="#f2b440"/>
<rect x="401.05" y="96.63" width="1.9" height="1.9" fill="#f2b440"/>
<rect x="410.58" y="100.54" width="1.9" height="1.9" fill="#f2b440"/>
<rect x="267.75" y="41.95" width="1.9" height="1.9" fill="#f2b440"/>
</g>
<line x1="102.9" y1="0" x2="102.9" y2="206.3" stroke="#6a4878" stroke-width="1.6"/>
<line x1="434" y1="2" x2="434" y2="206.3" stroke="#a8a8a8" stroke-width="1.5"/>
<line x1="102.2" y1="206.3" x2="434.7" y2="206.3" stroke="#222" stroke-width="1.2"/>
<line x1="185.7" y1="206.8" x2="185.7" y2="209" stroke="#aaa" stroke-width="0.8"/>
<line x1="268.5" y1="206.8" x2="268.5" y2="209" stroke="#aaa" stroke-width="0.8"/>
<line x1="351.3" y1="206.8" x2="351.3" y2="209" stroke="#aaa" stroke-width="0.8"/>
<line x1="100" y1="42.9" x2="102" y2="42.9" stroke="#aaa" stroke-width="0.8"/>
<line x1="100" y1="124.4" x2="102" y2="124.4" stroke="#aaa" stroke-width="0.8"/>
<rect x="75.6" y="1.5" width="369.8" height="227" fill="none" stroke="#333" stroke-width="1.2"/>
<g font-family="Liberation Sans" font-size="11.3" fill="#111">
<text x="96.8" y="46" text-anchor="end">0</text>
<text x="96.6" y="128.1" text-anchor="end">-0.5</text>
<text x="96.2" y="208.6" text-anchor="end">-1</text>
<text x="102.5" y="220.2" text-anchor="middle">-1</text>
<text x="185.7" y="220.2" text-anchor="middle">-0.5</text>
<text x="267.8" y="220.2" text-anchor="middle">0</text>
<text x="349.8" y="220.2" text-anchor="middle">0.5</text>
<text x="433" y="220.2" text-anchor="middle">1</text>
<text x="298.4" y="223.6" text-anchor="middle" font-size="9.5">G</text>
<text transform="translate(85.5,30) rotate(-90)" text-anchor="middle" font-size="10.5">S</text>
</g>
<text x="266.4" y="15.6" text-anchor="middle" font-family="Liberation Sans" font-weight="bold" font-size="13" fill="#111">SPECTRAL PHASOR PLOT</text>
</g>
<filter id="bb" x="-20%" y="-10%" width="140%" height="120%"><feGaussianBlur stdDeviation="0.35"/></filter>
<g filter="url(#bb)">
<path d="M229.50,29.20 L231.50,28.80 L233.50,29.50 L234.40,31.00 L234.20,33.00 L235.00,35.00 L234.60,37.00 L234.20,39.00 L234.80,41.00 L235.20,44.00 L234.80,47.00 L234.40,50.00 L233.50,52.50 L232.80,55.00 L233.50,57.50 L235.00,59.00 L236.20,61.00 L236.80,64.00 L236.30,67.00 L235.50,69.50 L236.30,71.30 L238.20,73.40 L240.10,75.90 L242.10,78.90 L243.70,82.10 L243.00,83.40 L241.30,81.30 L239.20,78.80 L237.00,76.60 L234.60,75.20 L233.80,78.00 L233.60,82.00 L233.20,85.50 L231.00,87.30 L228.50,86.50 L227.00,83.00 L226.50,79.00 L226.20,75.00 L225.80,72.00 L225.00,69.50 L224.30,67.00 L224.60,64.50 L224.20,62.00 L225.20,59.50 L225.50,58.00 L224.20,56.00 L223.20,53.00 L222.80,50.00 L222.30,46.00 L222.10,42.00 L222.30,38.50 L223.50,36.50 L225.00,36.00 L226.50,35.00 L228.00,33.00 L228.50,31.00 Z" fill="#040488"/>
<circle cx="244.7" cy="85.5" r="0.8" fill="#040488"/>
<path d="M229.80,31.50 L231.80,31.00 L232.30,34.00 L231.80,38.00 L232.40,43.00 L232.00,49.00 L231.00,52.50 L229.50,52.80 L227.50,50.50 L226.00,47.00 L226.50,42.00 L228.20,39.00 L229.00,35.00 Z" fill="#0c38d8"/>
<path d="M227.80,60.50 L230.00,60.00 L231.00,63.00 L230.60,68.00 L231.80,74.00 L232.20,80.00 L231.60,84.50 L229.50,85.00 L228.20,80.00 L227.60,74.00 L227.20,68.00 L227.00,63.00 Z" fill="#0c38d8"/>
<path d="M230.40,32.50 L231.60,32.50 L230.80,38.00 L229.60,38.00 Z" fill="#18c8f8"/>
<path d="M230.00,40.00 L231.50,40.00 L232.20,50.00 L231.00,51.00 L229.80,45.00 Z" fill="#18c8f8"/>
<path d="M225.60,44.00 L226.80,44.00 L226.60,49.00 L225.40,48.50 Z" fill="#18c8f8"/>
<path d="M228.00,62.00 L229.20,62.00 L229.00,71.00 L227.80,71.00 Z" fill="#18c8f8"/>
<path d="M229.20,75.00 L230.60,75.00 L231.60,85.00 L230.20,85.00 Z" fill="#18c8f8"/>
<circle cx="230.7" cy="44.9" r="1.1" fill="#f05010"/>
<circle cx="230.9" cy="46.8" r="0.9" fill="#f8e020"/>
<circle cx="225.5" cy="46.4" r="0.9" fill="#f8e020"/>
<circle cx="227.2" cy="42.7" r="0.7" fill="#f8a030"/>
<circle cx="228" cy="71.3" r="1.0" fill="#f8d020"/>
<circle cx="229.7" cy="77.3" r="0.9" fill="#f06010"/>
<circle cx="232.1" cy="79.5" r="0.8" fill="#f8e020"/>
</g>
<circle cx="228.3" cy="29.9" r="8.4" fill="none" stroke="#ff00ff" stroke-width="1.3"/>
<circle cx="229.9" cy="47.0" r="8.4" fill="none" stroke="#11ee11" stroke-width="1.3"/>
<circle cx="229.7" cy="65.3" r="8.4" fill="none" stroke="#ee1111" stroke-width="1.3"/>
<circle cx="231.1" cy="83.1" r="8.4" fill="none" stroke="#8a1818" stroke-width="1.3"/>
<rect x="129.6" y="108.4" width="265.4" height="83.8" fill="#fff" stroke="#111" stroke-width="1.7"/>
<g font-family="Liberation Sans" font-weight="bold" font-size="13" text-anchor="middle">
<text x="262.5" y="124.2" fill="#111">Emission spectra:</text>
<text x="262.5" y="139.5" fill="#ff00ff">Hair keratin (560 nm);</text>
<text x="262.5" y="154.8" fill="#1fae4e">Pheomelanin-enriched mixture (589 nm);</text>
<text x="262.5" y="170.6" fill="#ff0a0a">Eumelanin-enriched mixture (610 nm);</text>
<text x="262.5" y="185.8" fill="#c41020">Porphyrin (heme) (612 nm)</text>
</g>
<circle cx="88.7" cy="13.9" r="12.8" fill="#fff" stroke="#222" stroke-width="1.1"/><text transform="translate(88.7,19.8) scale(0.9,1.08)" text-anchor="middle" font-family="Liberation Sans" font-weight="bold" font-size="17" fill="#111">a</text>
<rect x="478.5" y="64.5" width="205.5" height="37" fill="#fff" stroke="#444" stroke-width="1"/>
<rect x="478.5" y="309" width="205.5" height="36.5" fill="#fff" stroke="#555" stroke-width="1"/>
<g font-family="Liberation Sans" font-weight="bold" font-size="13" fill="#111" text-anchor="middle">
<text x="581.5" y="79.3">HUMAN DARK BROWN HAIR</text>
<text x="581.5" y="95.6">(BRIGHTFIELD)</text>
<text x="581.6" y="324">HUMAN RED HAIR</text>
<text x="581.7" y="340.1">(BRIGHTFIELD)</text>
</g>
<defs>
<linearGradient id="h1" gradientUnits="userSpaceOnUse" x1="528" y1="0" x2="647" y2="0"><stop offset="0" stop-color="#d0d0d0"/><stop offset="0.05" stop-color="#b0b0b0"/><stop offset="0.10" stop-color="#8a8a8a"/><stop offset="0.14" stop-color="#686868"/><stop offset="0.19" stop-color="#525252"/><stop offset="0.27" stop-color="#4a4a4a"/><stop offset="0.37" stop-color="#444444"/><stop offset="0.42" stop-color="#323232"/><stop offset="0.52" stop-color="#282828"/><stop offset="0.60" stop-color="#2e2e2e"/><stop offset="0.65" stop-color="#424242"/><stop offset="0.77" stop-color="#4a4a4a"/><stop offset="0.84" stop-color="#5e5e5e"/><stop offset="0.88" stop-color="#747474"/><stop offset="0.93" stop-color="#a8a8a8"/><stop offset="1" stop-color="#d0d0d0"/></linearGradient>
<linearGradient id="h2" gradientUnits="userSpaceOnUse" x1="540" y1="0" x2="640" y2="0"><stop offset="0.000" stop-color="#0e0e0e"/><stop offset="0.092" stop-color="#161616"/><stop offset="0.110" stop-color="#5a5a5a"/><stop offset="0.132" stop-color="#909090"/><stop offset="0.157" stop-color="#808080"/><stop offset="0.177" stop-color="#5c5c5c"/><stop offset="0.202" stop-color="#707070"/><stop offset="0.250" stop-color="#828282"/><stop offset="0.310" stop-color="#909090"/><stop offset="0.400" stop-color="#929292"/><stop offset="0.480" stop-color="#888888"/><stop offset="0.550" stop-color="#7a7a7a"/><stop offset="0.620" stop-color="#707070"/><stop offset="0.650" stop-color="#626262"/><stop offset="0.685" stop-color="#5a5a5a"/><stop offset="0.720" stop-color="#646464"/><stop offset="0.780" stop-color="#7c7c7c"/><stop offset="0.820" stop-color="#8c8c8c"/><stop offset="0.860" stop-color="#8e8e8e"/><stop offset="0.885" stop-color="#6a6a6a"/><stop offset="0.910" stop-color="#262626"/><stop offset="0.940" stop-color="#0e0e0e"/><stop offset="1.000" stop-color="#0e0e0e"/></linearGradient>
<filter id="bl1" x="-20%" y="-5%" width="140%" height="110%"><feGaussianBlur stdDeviation="0.9"/></filter>
<filter id="bl2" x="-20%" y="-5%" width="140%" height="110%"><feGaussianBlur stdDeviation="2.2"/></filter>
<filter id="bl3" x="-20%" y="-5%" width="140%" height="110%"><feGaussianBlur stdDeviation="1.3"/></filter>
<filter id="nz" x="0" y="0" width="100%" height="100%"><feTurbulence type="fractalNoise" baseFrequency="0.12 0.07" numOctaves="2" seed="3"/><feColorMatrix type="matrix" values="0 0 0 0 1  0 0 0 0 1  0 0 0 0 1  1.6 0 0 0 -0.75"/></filter>
<filter id="nzd" x="0" y="0" width="100%" height="100%"><feTurbulence type="fractalNoise" baseFrequency="0.10 0.06" numOctaves="2" seed="8"/><feColorMatrix type="matrix" values="0 0 0 0 0  0 0 0 0 0  0 0 0 0 0  1.8 0 0 0 -0.85"/></filter>
<clipPath id="c1"><rect x="478" y="102.8" width="205.8" height="205.6"/></clipPath>
<clipPath id="c2"><rect x="478" y="346" width="207" height="206"/></clipPath>
<clipPath id="hb1"><path d="M526.8,102.8 L528.3,150.0 L529.4,200.0 L529.8,250.0 L530.2,308.0 L649.5,308.0 L647.8,250.0 L646.6,200.0 L646.4,160.0 L645.6,130.0 L643.5,118.0 L640.2,102.8 Z"/></clipPath>
<linearGradient id="tzL" x1="0" y1="0" x2="1" y2="0"><stop offset="0" stop-color="#f0f0f0" stop-opacity="1"/><stop offset="0.4" stop-color="#c0c0c0" stop-opacity="0.75"/><stop offset="1" stop-color="#808080" stop-opacity="0"/></linearGradient>
<linearGradient id="tzR" x1="1" y1="0" x2="0" y2="0"><stop offset="0" stop-color="#f0f0f0" stop-opacity="1"/><stop offset="0.4" stop-color="#c0c0c0" stop-opacity="0.75"/><stop offset="1" stop-color="#808080" stop-opacity="0"/></linearGradient>
<linearGradient id="h1b" gradientUnits="userSpaceOnUse" x1="530" y1="0" x2="645" y2="0"><stop offset="0" stop-color="#545454"/><stop offset="0.30" stop-color="#4c4c4c"/><stop offset="0.40" stop-color="#383838"/><stop offset="0.46" stop-color="#262626"/><stop offset="0.56" stop-color="#262626"/><stop offset="0.62" stop-color="#3a3a3a"/><stop offset="0.70" stop-color="#4a4a4a"/><stop offset="1" stop-color="#525252"/></linearGradient>
</defs>
<g clip-path="url(#c1)">
<rect x="478" y="102.8" width="205.8" height="205.6" fill="#1a1a1a"/>
<path d="M644.2,102.8 L647.5,118.0 L649.6,130.0 L650.4,160.0 L650.6,200.0 L651.8,250.0 L653.5,308.0 L647.0,308.0 L646.0,250.0 L645.2,200.0 L645.0,160.0 L644.2,130.0 L642.5,118.0 L638.8,102.8 Z" fill="#3a3a3a" filter="url(#bl2)"/>
<g clip-path="url(#hb1)">
<g transform="translate(0,102.9) skewX(0.8) translate(0,-102.9)"><rect x="526" y="102.9" width="126" height="206" fill="url(#h1b)"/></g>
<path d="M578,124 L598,124 L601,308 L577,308 Z" fill="#1e1e1e" opacity="0.75" filter="url(#bl2)"/>
<path d="M529,102.8 L547,102.8 L551,308 L533,308 Z" fill="url(#tzL)"/>
<path d="M622,102.8 L640,102.8 L647,308 L628,308 Z" fill="url(#tzR)"/>
<rect x="526" y="102.9" width="126" height="206" filter="url(#nzd)" opacity="0.4"/>
<rect x="526" y="102.9" width="126" height="206" filter="url(#nz)" opacity="0.15"/>
</g>
<path d="M526.8,102.8 L528.3,150.0 L529.4,200.0 L529.8,250.0 L530.2,308.0 L535.2,308.0 L534.6,250.0 L534.0,200.0 L533.0,150.0 L531.0,102.8 Z" fill="#fcfcfc" filter="url(#bl3)"/>
<path d="M634.8,102.8 L638.5,118.0 L640.2,130.0 L641.0,160.0 L641.2,200.0 L642.0,250.0 L643.0,308.0 L649.5,308.0 L647.8,250.0 L646.6,200.0 L646.4,160.0 L645.6,130.0 L643.5,118.0 L640.2,102.8 Z" fill="#fcfcfc" filter="url(#bl3)"/>
<path d="M527.4,102.8 L528.9,150.0 L530.0,200.0 L530.4,250.0 L530.8,308.0 L534.8,308.0 L534.2,250.0 L533.6,200.0 L532.6,150.0 L530.6,102.8 Z" fill="#fefefe"/>
<path d="M635.2,102.8 L638.9,118.0 L640.6,130.0 L641.4,160.0 L641.6,200.0 L642.4,250.0 L643.4,308.0 L648.9,308.0 L647.2,250.0 L646.0,200.0 L645.8,160.0 L645.0,130.0 L642.9,118.0 L639.6,102.8 Z" fill="#fefefe"/>
<path d="M529,203 C526.5,205 525.5,208 526.5,211 L529.5,214 Z" fill="#e8e8e8" filter="url(#bl1)"/>
</g>
<g clip-path="url(#c2)">
<rect x="478" y="346" width="207" height="206" fill="#0e0e0e"/>
<g transform="translate(0,346) skewX(3.43) translate(0,-346)">
<rect x="540" y="340" width="100" height="218" fill="url(#h2)" filter="url(#bl1)"/>
</g>
<clipPath id="hb2"><path d="M550,346 L631,346 L643.5,552 L562.5,552 Z"/></clipPath>
<g clip-path="url(#hb2)"><rect x="545" y="346" width="100" height="206" filter="url(#nzd)" opacity="0.22"/></g>
<g filter="url(#bl3)">
<path d="M583,346 L595,346 L597,552 L590,552 Z" fill="#5a5a5a" opacity="0.5"/>
<path d="M586,373.5 C589,372 592,373 593.5,377 L596,388 L597,400 L596.8,410 L595,416 L590,417.5 L587,413 L585,403 L584,390 Z" fill="#1c1c1c"/>
<path d="M591,431 C595,430 599,432 600.5,438 L602.5,452 L604.5,470 L603.5,488 L602.5,500 L600,511 L596.5,510 L594,498 L591,486 L589,468 L590.5,455 L589.5,442 Z" fill="#1e1e1e"/>
<path d="M598,521 L604,521 L606,536 L606.5,553 L600,553 L598.5,538 Z" fill="#202020"/>
</g>
</g>
<g font-family="Liberation Sans" font-weight="bold" font-size="13" fill="#fff">
<g clip-path="url(#c1)">
<text x="481.1" y="116.6">Keratin</text>
<text x="641.8" y="117">Keratin</text>
<text x="585" y="118.6" text-anchor="middle">Hair core</text>
<text x="588.3" y="183" text-anchor="middle">Hair cortex</text>
<text x="585.4" y="301.7" text-anchor="middle">Depth: 19 um</text>
</g>
<text x="486.8" y="360.3">Keratin</text>
<text x="636.6" y="362.5">Keratin</text>
<text x="590.6" y="363" text-anchor="middle">Hair core</text>
<text x="594.2" y="426.2" text-anchor="middle">Hair cortex</text>
<text x="525.3" y="544.8" text-anchor="middle">Depth: 19 um</text>
</g>
<line x1="518.4" y1="121.4" x2="530.0" y2="131.0" stroke="#f01010" stroke-width="1.6"/><path d="M534.2,134.5 L528.3,133.0 L531.6,129.0 Z" fill="#f01010"/>
<line x1="666.2" y1="119.9" x2="649.1" y2="128.8" stroke="#f01010" stroke-width="1.6"/><path d="M644.2,131.3 L647.9,126.5 L650.3,131.1 Z" fill="#f01010"/>
<line x1="523.5" y1="365.4" x2="550.3" y2="376.5" stroke="#f01010" stroke-width="1.6"/><path d="M555.4,378.6 L549.3,378.9 L551.3,374.1 Z" fill="#f01010"/>
<line x1="657.5" y1="365.9" x2="630.4" y2="375.1" stroke="#f01010" stroke-width="1.6"/><path d="M625.2,376.9 L629.6,372.7 L631.2,377.6 Z" fill="#f01010"/>
<path d="M576.5,131.5 L576.5,127.8 L598.7,127.8 L598.7,131.5 M587.2,127.8 L587.2,122.7" fill="none" stroke="#f01010" stroke-width="1.8"/>
<path d="M549,158.8 L549,163.1 L577.2,163.1 L577.2,158.8 M562.9,163.1 L562.9,168" fill="none" stroke="#f01010" stroke-width="1.8"/>
<path d="M599.6,158.8 L599.6,163.1 L628.6,163.1 L628.6,158.8 M614.2,163.1 L614.2,168" fill="none" stroke="#f01010" stroke-width="1.8"/>
<path d="M583.5,376.2 L583.5,373.1 L595.4,373.1 L595.4,376.2 M589.5,373.1 L589.5,366.8" fill="none" stroke="#f01010" stroke-width="1.8"/>
<path d="M565.4,404.2 L565.4,407.6 L583.5,407.6 L583.5,404.2 M574.4,407.6 L574.4,412.4" fill="none" stroke="#f01010" stroke-width="1.8"/>
<path d="M599.6,404.2 L599.6,407.6 L617.3,407.6 L617.3,404.2 M608.1,407.6 L608.1,412.4" fill="none" stroke="#f01010" stroke-width="1.8"/>
<line x1="659.4" y1="302.4" x2="674.4" y2="302.4" stroke="#f01010" stroke-width="0.8"/><circle cx="659.4" cy="302.4" r="0.9" fill="#f01010"/><circle cx="674.4" cy="302.4" r="0.9" fill="#f01010"/>
<line x1="657.7" y1="546.5" x2="673.4" y2="546.5" stroke="#f01010" stroke-width="0.8"/><circle cx="657.7" cy="546.5" r="0.9" fill="#f01010"/><circle cx="673.4" cy="546.5" r="0.9" fill="#f01010"/>
<text x="667" y="307" font-family="Liberation Sans" font-size="3" fill="#f01010" text-anchor="middle">10 µm</text>
<text x="665.5" y="550.8" font-family="Liberation Sans" font-size="3" fill="#f01010" text-anchor="middle">10 µm</text>
<circle cx="472.4" cy="75.9" r="12.6" fill="#fff" stroke="#222" stroke-width="1.1"/><text transform="translate(472.4,81.80000000000001) scale(0.9,1.08)" text-anchor="middle" font-family="Liberation Sans" font-weight="bold" font-size="17" fill="#111">b</text>
<circle cx="13.6" cy="243.1" r="12.6" fill="#fff" stroke="#222" stroke-width="1.1"/><text transform="translate(13.6,249.0) scale(0.9,1.08)" text-anchor="middle" font-family="Liberation Sans" font-weight="bold" font-size="17" fill="#111">c</text>
</svg>
</body></html>
